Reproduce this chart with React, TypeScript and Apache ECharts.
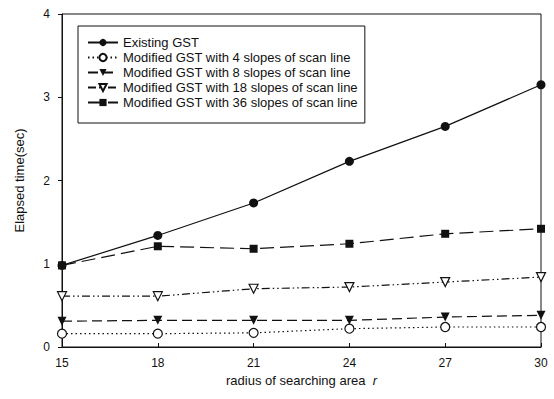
import React, { useEffect, useRef } from "react";
import * as echarts from "echarts";

const radii = [15, 18, 21, 24, 27, 30];
const existingGST = [0.98, 1.34, 1.73, 2.23, 2.65, 3.15];
const slopes4 = [0.16, 0.16, 0.17, 0.22, 0.24, 0.24];
const slopes8 = [0.31, 0.32, 0.32, 0.32, 0.36, 0.38];
const slopes18 = [0.61, 0.61, 0.7, 0.72, 0.78, 0.84];
const slopes36 = [0.98, 1.21, 1.18, 1.24, 1.36, 1.42];
const seriesNames = [
  "Existing GST",
  "Modified GST with 4 slopes of scan line",
  "Modified GST with 8 slopes of scan line",
  "Modified GST with 18 slopes of scan line",
  "Modified GST with 36 slopes of scan line",
];

const pair = (vals: number[]) => radii.map((r, i) => [r, vals[i]]);

export default function App() {
  const ref = useRef<HTMLDivElement>(null);
  useEffect(() => {
    if (!ref.current) return;
    const chart = echarts.init(ref.current, undefined, { renderer: "svg" });
    const font = "Liberation Sans, Arial, Helvetica, sans-serif";
    const black = "#111";
    const mk = (
      name: string,
      vals: number[],
      lineType: any,
      symbol: string,
      rotate: number,
      size: number,
      hollow: boolean
    ) => ({
      name,
      type: "line",
      data: pair(vals),
      symbol,
      symbolRotate: rotate,
      symbolSize: size,
      showSymbol: true,
      lineStyle: { color: black, width: 1.2, type: lineType },
      itemStyle: hollow
        ? { color: "#fff", borderColor: black, borderWidth: 1.2 }
        : { color: black, borderColor: black, borderWidth: 0 },
      z: 3,
    });
    chart.setOption({
      animation: false,
      backgroundColor: "#fff",
      textStyle: { fontFamily: font, color: black },
      grid: {
        left: 62,
        right: 13,
        top: 14,
        bottom: 52,
        show: true,
        borderColor: black,
        borderWidth: 1,
      },
      legend: {
        orient: "vertical",
        left: 78,
        top: 26,
        padding: [10, 7, 14, 9],
        borderColor: black,
        borderWidth: 1,
        backgroundColor: "#fff",
        itemWidth: 30,
        itemHeight: 9,
        itemGap: 2,
        textStyle: { fontSize: 13, color: black, fontFamily: font, lineHeight: 13 },
        data: seriesNames,
      },
      xAxis: {
        type: "value",
        min: 15,
        max: 30,
        interval: 3,
        name: "radius of searching area  {i|r}",
        nameLocation: "middle",
        nameGap: 27,
        nameTextStyle: {
          fontSize: 13,
          color: black,
          fontFamily: font,
          rich: { i: { fontStyle: "italic", fontSize: 13, fontFamily: font, color: black } },
        },
        axisLine: { show: true, lineStyle: { color: black, width: 1 } },
        axisTick: { show: true, inside: true, length: 4, lineStyle: { color: black } },
        axisLabel: { fontSize: 12, color: black, margin: 10, fontFamily: font },
        splitLine: { show: false },
      },
      yAxis: {
        type: "value",
        min: 0,
        max: 4,
        interval: 1,
        name: "Elapsed time(sec)",
        nameLocation: "middle",
        nameGap: 36,
        nameTextStyle: { fontSize: 13, color: black, fontFamily: font },
        axisLine: { show: true, lineStyle: { color: black, width: 1 } },
        axisTick: { show: true, inside: false, length: 4, lineStyle: { color: black } },
        axisLabel: { fontSize: 12, color: black, margin: 12, fontFamily: font },
        splitLine: { show: false },
      },
      series: [
        mk(seriesNames[0], existingGST, "solid", "circle", 0, 9, false),
        mk(seriesNames[1], slopes4, [1.5, 3], "circle", 0, 9, true),
        mk(seriesNames[2], slopes8, [10, 5], "triangle", 180, 9, false),
        mk(seriesNames[3], slopes18, [8, 3, 1.5, 3, 1.5, 3], "triangle", 180, 9, true),
        mk(seriesNames[4], slopes36, [14, 6], "rect", 0, 8, false),
      ],
    });
    return () => chart.dispose();
  }, []);
  return <div ref={ref} style={{ width: 554, height: 399, position: "absolute", left: 0, top: 0 }} />;
}
